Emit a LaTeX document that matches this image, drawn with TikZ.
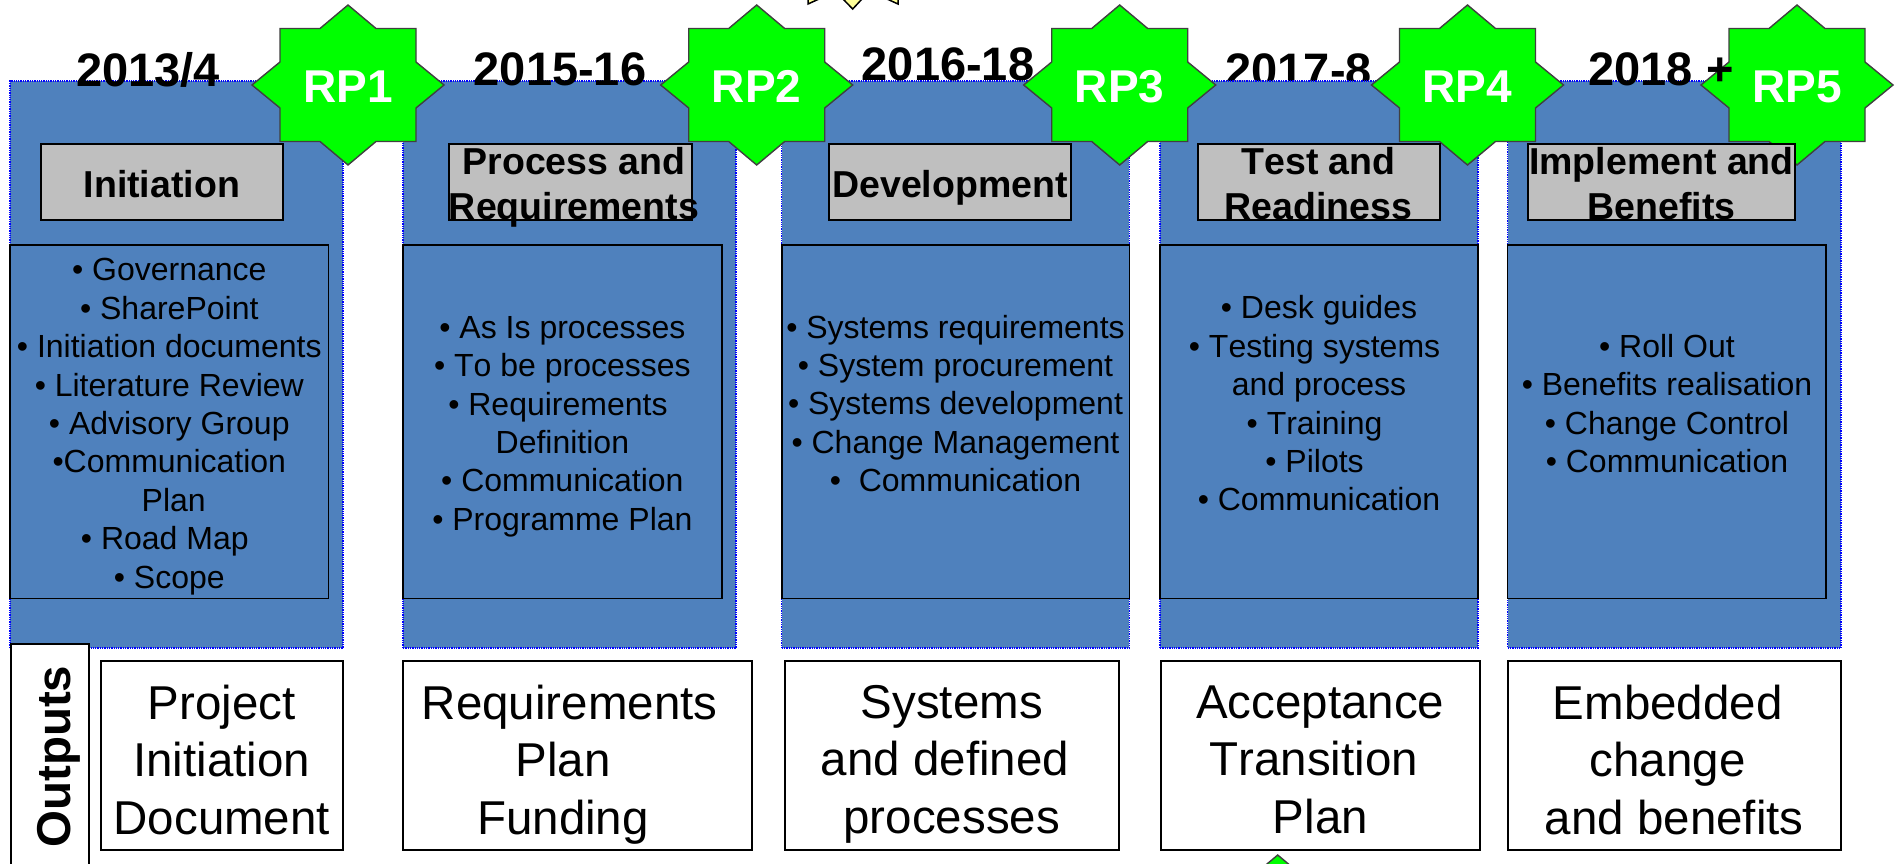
\documentclass[tikz,border=0pt]{standalone}
\usepackage{fontspec}
\setmainfont[Kerning=Off]{Liberation Sans}
\tikzset{
  x=1pt,y=-1pt,
  panel/.style={draw=blue,fill=panelblue,line width=1.3pt,densely dotted},
  greybox/.style={draw=black,fill=boxgrey,line width=2pt,inner sep=0pt},
  bodybox/.style={draw=black,line width=1.6pt,inner sep=0pt},
  outbox/.style={draw=black,fill=white,line width=1.8pt,inner sep=0pt},
  txt/.style={inner sep=0pt,align=center,execute at begin node=\strut,execute at end node=\strut},
  graytxt/.style={txt,font=\fontsize{37.5}{45.3}\selectfont\bfseries},
  bodytxt/.style={txt,font=\fontsize{32}{38.4}\selectfont},
  outtxt/.style={txt,font=\fontsize{47.5}{57.5}\selectfont},
  yeartxt/.style={txt,font=\fontsize{47}{50}\selectfont\bfseries},
  rptxt/.style={txt,text=white,font=\fontsize{46}{50}\selectfont\bfseries},
  rpstar/.style={draw=stargrey,fill=stargreen,line width=1.4pt,line join=miter},
}
\definecolor{panelblue}{HTML}{4F81BD}
\definecolor{boxgrey}{HTML}{BFBFBF}
\definecolor{stargreen}{HTML}{00FF00}
\definecolor{stargrey}{HTML}{404040}
\definecolor{paleyellow}{HTML}{FFFF99}
\newcommand{\tsp}{\ \null}
\newcommand{\lsp}{\null\ }
% rectangle node given by left, top, right, bottom
\newcommand{\rectnode}[6]{%
  \pgfmathsetmacro{\rw}{#5-#3}\pgfmathsetmacro{\rh}{#6-#4}%
  \pgfmathsetmacro{\rx}{(#3+#5)/2}\pgfmathsetmacro{\ry}{(#4+#6)/2}%
  \node[#1,minimum width=\rw pt,minimum height=\rh pt] (#2) at (\rx,\ry) {};}
% eight pointed star: style, centre x, centre y
\newcommand{\eightstar}[3]{%
  \draw[#1] (#2,#3-80) -- (#2+28,#3-56.5) -- (#2+68,#3-56.5) -- (#2+68,#3-23) -- (#2+96,#3)
   -- (#2+68,#3+23) -- (#2+68,#3+56.5) -- (#2+28,#3+56.5) -- (#2,#3+80)
   -- (#2-28,#3+56.5) -- (#2-68,#3+56.5) -- (#2-68,#3+23) -- (#2-96,#3)
   -- (#2-68,#3-23) -- (#2-68,#3-56.5) -- (#2-28,#3-56.5) -- cycle;}
\begin{document}
\begin{tikzpicture}
\clip (0,0) rectangle (1896,864);
\fill[white] (0,0) rectangle (1896,864);
% stray stars cut off by the page edge
\draw[draw=black,fill=paleyellow,line width=1.5pt]
  (808,-10) -- (808,4) -- (819,-1) -- (843,-1) -- (852.7,9) -- (862,-1) -- (887,-1) -- (898,4) -- (898,-10) -- cycle;
\eightstar{rpstar}{1277.7}{935}
% year hidden behind its panel
\node[yeartxt] (y4) at (1298.7,77) {2017-8};
% panels
\rectnode{panel}{p1}{10}{81}{343}{648}
\rectnode{panel}{p2}{403}{81}{736}{648}
\rectnode{panel}{p3}{781.7}{81}{1129.4}{648}
\rectnode{panel}{p4}{1160}{81}{1478}{648}
\rectnode{panel}{p5}{1507.6}{81}{1841}{648}
% review point stars
\eightstar{rpstar}{348}{85}
\eightstar{rpstar}{756.7}{85}
\eightstar{rpstar}{1119.7}{85}
\eightstar{rpstar}{1467.5}{85}
\eightstar{rpstar}{1797}{85}
\node[rptxt] (r1) at (348,93) {RP1};
\node[rptxt] (r2) at (756.7,93) {RP2};
\node[rptxt] (r3) at (1119.7,93) {RP3};
\node[rptxt] (r4) at (1467.5,93) {RP4};
\node[rptxt] (r5) at (1797,93) {RP5};
% years
\node[yeartxt] (y1) at (148,77) {2013/4};
\node[yeartxt] (y2) at (560,76) {2015-16};
\node[yeartxt] (y3) at (948,71) {2016-18};
\node[yeartxt] (y5) at (1661,76) {2018 +};
% phase title boxes
\rectnode{greybox}{g1}{40.6}{144}{283}{220}
\rectnode{greybox}{g2}{448.7}{144}{691.5}{220}
\rectnode{greybox}{g3}{828.7}{144}{1071}{220}
\rectnode{greybox}{g4}{1197.5}{144}{1439.6}{220}
\rectnode{greybox}{g5}{1528}{144}{1795}{220}
\node[graytxt] (gt1) at (161.8,188) {Initiation};
\node[graytxt] (gt2) at (574,190) {Process and\\Requirements};
\node[graytxt] (gt3) at (950,188) {Development};
\node[graytxt] (gt4) at (1318.5,190) {Test and\\Readiness};
\node[graytxt] (gt5) at (1661.5,190) {Implement and\\Benefits};
% activity boxes
\rectnode{bodybox}{b1}{10}{245}{328.6}{598.5}
\rectnode{bodybox}{b2}{403}{245}{721.8}{598.5}
\rectnode{bodybox}{b3}{781.7}{245}{1129.4}{598.5}
\rectnode{bodybox}{b4}{1160}{245}{1478}{598.5}
\rectnode{bodybox}{b5}{1507.6}{245}{1826}{598.5}
\node[bodytxt] (bt1) at (169.3,429) {• Governance\\• SharePoint\\• Initiation documents\\• Literature Review\\• Advisory Group\\•Communication\\\lsp Plan\\• Road Map\tsp\\• Scope};
\node[bodytxt] (bt2) at (562.4,429) {• As Is processes\\• To be processes\\• Requirements\tsp\\Definition\\• Communication\\• Programme Plan};
\node[bodytxt] (bt3) at (955.5,409) {• Systems requirements\\• System procurement\\• Systems development\\• Change Management\\•\ \ Communication};
\node[bodytxt] (bt4) at (1319,409) {• Desk guides\\• Testing systems\tsp\\and process\\• Training\tsp\\• Pilots\tsp\\• Communication};
\node[bodytxt] (bt5) at (1667,409) {• Roll Out\\• Benefits realisation\\• Change Control\\• Communication};
% outputs
\rectnode{outbox}{ol}{10.7}{643.7}{88.7}{900}
\node[txt,font=\fontsize{47.5}{50}\selectfont\bfseries,rotate=90] (oltxt) at (60,756.7) {Outputs};
\rectnode{outbox}{o1}{100.7}{661}{343}{850}
\rectnode{outbox}{o2}{403}{661}{752}{850}
\rectnode{outbox}{o3}{784.7}{661}{1118.8}{850}
\rectnode{outbox}{o4}{1161}{661}{1479.7}{850}
\rectnode{outbox}{o5}{1507.6}{661}{1841}{850}
\node[outtxt] (ot1) at (221.8,768) {Project\\Initiation\\Document};
\node[outtxt] (ot2) at (569.6,768) {Requirements\\Plan\tsp\\Funding\tsp};
\node[outtxt] (ot3) at (951.7,768) {Systems\\and defined\tsp\\processes};
\node[outtxt] (ot4) at (1320.3,768) {Acceptance\\Transition\tsp\\Plan};
\node[outtxt] (ot5) at (1674.3,768) {Embedded\tsp\\change\tsp\\and benefits};
\end{tikzpicture}
\end{document}
